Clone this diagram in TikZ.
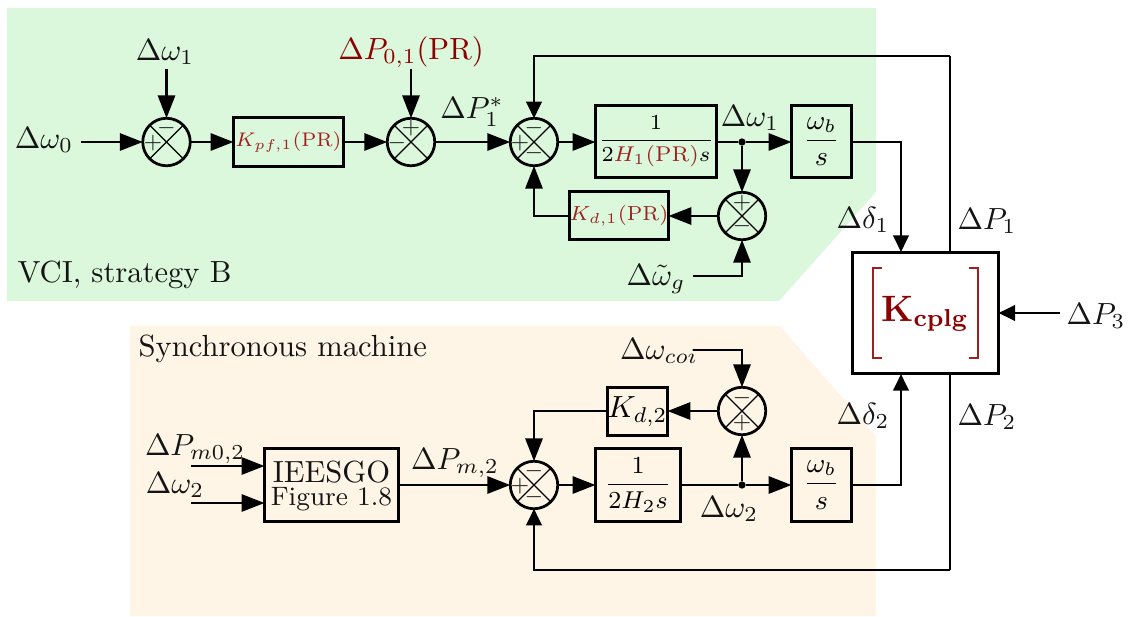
\documentclass[tikz,border=0pt]{standalone}
\usepackage{amsmath}
\usepackage{graphicx}
\usetikzlibrary{arrows.meta}
\definecolor{greenbg}{HTML}{DCF8DC}
\definecolor{orangebg}{HTML}{FFF5E6}
\definecolor{dred}{HTML}{8B0000}
\definecolor{mred}{HTML}{9E2020}
\newcommand{\pxu}{0.327pt}
\begin{document}
\begin{tikzpicture}[x=\pxu,y=-\pxu,
  wire/.style={line width=0.9pt},
  bigarrow/.style={wire,-{Triangle[length=7.5pt,width=5.6pt]}},
  smallarrow/.style={wire,-{Triangle[length=5.4pt,width=5pt]}},
  blockbox/.style 2 args={draw,line width=0.9pt,inner sep=0pt,outer sep=0pt,align=center,
     minimum width=#1*\pxu,minimum height=#2*\pxu},
  sumnode/.style={draw,circle,line width=0.9pt,inner sep=0pt,outer sep=0pt,minimum size=47.5*\pxu},
  crossline/.style={line width=0.45pt},
  signmark/.style={inner sep=0pt,font=\scriptsize,text=black!85},
  lab/.style={inner sep=0pt,text=black!92},
  jdot/.style={circle,fill=black,inner sep=0pt,outer sep=0pt,minimum size=2.4pt},
  point/.style={inner sep=0pt,outer sep=0pt,minimum size=0pt}
]
\useasboundingbox (0,0) rectangle (1132,616);
\fill[greenbg] (7,8) -- (876,8) -- (876,192) -- (779,301) -- (7,301) -- cycle;
\fill[orangebg] (130,326) -- (780,326) -- (876,436) -- (876,616) -- (130,616) -- cycle;

% sums
\node[sumnode] (s1) at (166.5,142) {};
\node[sumnode] (s2) at (411,142) {};
\node[sumnode] (s3) at (534,142) {};
\node[sumnode] (s4) at (742,216) {};
\node[sumnode] (s5) at (742,411) {};
\node[sumnode] (s6) at (534,485) {};
\foreach \s in {s1,s2,s3,s4,s5,s6}{
  \draw[crossline] (\s.45) -- (\s.225);
  \draw[crossline] (\s.135) -- (\s.315);
}
\node[signmark] (s1t) at (166.5,128) {$-$};
\node[signmark] (s1l) at (153,143) {$+$};
\node[signmark] (s2t) at (411,128) {$+$};
\node[signmark] (s2l) at (397,143) {$-$};
\node[signmark] (s3t) at (534,128) {$-$};
\node[signmark] (s3l) at (520,143) {$+$};
\node[signmark] (s3b) at (534,153) {$-$};
\node[signmark] (s4t) at (742,203) {$+$};
\node[signmark] (s4b) at (742,226) {$-$};
\node[signmark] (s5t) at (742,398) {$-$};
\node[signmark] (s5b) at (742,423) {$+$};
\node[signmark] (s6t) at (534,471) {$-$};
\node[signmark] (s6l) at (520,486) {$+$};
\node[signmark] (s6b) at (534,497) {$-$};

% boxes
\node[blockbox={110}{49}] (kpf) at (288.5,142) {\scalebox{0.92}{\scriptsize\color{mred}$K_{pf,1}(\mathrm{PR})$}};
\node[blockbox={121}{72}] (h1) at (656,141.5) {\scriptsize$\dfrac{1}{2{\color{mred}H_1(\mathrm{PR})}s}$};
\node[blockbox={60}{72}] (wb1) at (821.5,141.5) {\small$\dfrac{\omega_b}{s}$};
\node[blockbox={97}{48}] (kd1) at (619,215.5) {\scalebox{0.95}{\scriptsize\color{mred}$K_{d,1}(\mathrm{PR})$}};
\node[blockbox={146}{121}] (k) at (925.5,313) {};
\node[inner sep=0pt,text=dred,font=\large] (ktext) at (925,314) {$\mathbf{K_{cplg}}$};
\node[blockbox={134}{73}] (ie) at (331.5,485) {};
\node[lab,font=\normalsize] (ie1) at (331.5,472) {IEESGO};
\node[lab,font=\fontsize{8.7}{10}\selectfont] (ie2) at (331.5,499) {Figure 1.8};
\node[blockbox={85}{73}] (h2) at (638,485) {\footnotesize$\dfrac{1}{2H_2s}$};
\node[blockbox={60}{73}] (wb2) at (821.5,485) {\small$\dfrac{\omega_b}{s}$};
\node[blockbox={60}{48}] (kd2) at (637.5,411.5) {$K_{d,2}$};

% bracket
\draw[mred,line width=0.35pt] (882,268) -- (873,268) -- (873,358) -- (882,358);
\draw[mred,line width=0.35pt] (969,268) -- (978,268) -- (978,358) -- (969,358);

% free ends and dots
\node[point] (in0) at (81,142) {};
\node[point] (in1) at (166.5,69) {};
\node[point] (in01) at (411,69) {};
\node[point] (ing) at (693,276) {};
\node[point] (incoi) at (693,350) {};
\node[point] (inm) at (191,466) {};
\node[point] (inw) at (191,503) {};
\node[point] (inp3) at (1060,313) {};
\node[jdot] (j1) at (742,142) {};
\node[jdot] (j2) at (742,485) {};
\coordinate (p1top) at (950,56);
\coordinate (p2bot) at (950,570);
\coordinate (k1) at (950,252);
\coordinate (k2) at (950,374);
\coordinate (d1) at (901,252);
\coordinate (d2) at (901,374);

% connectors
\draw[bigarrow] (in0) -- (s1);
\draw[bigarrow] (in1) -- (s1);
\draw[bigarrow] (s1) -- (kpf);
\draw[bigarrow] (kpf) -- (s2);
\draw[bigarrow] (in01) -- (s2);
\draw[bigarrow] (s2) -- (s3);
\draw[bigarrow] (s3) -- (h1.west |- s3);
\draw[wire] (h1.east |- j1) -- (j1);
\draw[bigarrow] (j1) -- (wb1.west |- j1);
\draw[bigarrow] (j1) -- (s4);
\draw[bigarrow] (s4) -- (kd1.east |- s4);
\draw[bigarrow] (kd1.west |- s4) -| (s3);
\draw[bigarrow] (ing) -| (s4);
\draw[wire] (k1) -- (p1top);
\draw[smallarrow] (p1top) -| (s3);
\draw[smallarrow] (wb1.east |- j1) -| (d1);
\draw[smallarrow] (wb2) -| (d2);
\draw[wire] (k2) -- (p2bot);
\draw[smallarrow] (p2bot) -| (s6);
\draw[smallarrow] (inp3) -- (k.east |- inp3);
\draw[bigarrow] (inm) -- (ie.west |- inm);
\draw[bigarrow] (inw) -- (ie.west |- inw);
\draw[bigarrow] (ie) -- (s6);
\draw[bigarrow] (s6) -- (h2);
\draw[wire] (h2) -- (j2);
\draw[bigarrow] (j2) -- (wb2);
\draw[bigarrow] (j2) -- (s5);
\draw[bigarrow] (incoi) -| (s5);
\draw[bigarrow] (s5) -- (kd2.east |- s5);
\draw[bigarrow] (kd2.west |- s5) -| (s6);

% labels
\node[lab] (l1) at (165,52) {$\Delta\omega_1$};
\node[lab] (l0) at (44,140) {$\Delta\omega_0$};
\node[lab,text=dred] (l01) at (411,52) {$\Delta P_{0,1}(\mathrm{PR})$};
\node[lab] (lps) at (472,112) {$\Delta P_1^*$};
\node[lab,anchor=west] (lvci) at (17,275) {VCI, strategy B};
\node[lab] (lw1) at (750,118) {$\Delta\omega_1$};
\node[lab] (ld1) at (863,220) {$\Delta\delta_1$};
\node[lab] (lp1) at (987,221) {$\Delta P_1$};
\node[lab] (lp3) at (1096,316) {$\Delta P_3$};
\node[lab] (lp2) at (987,417) {$\Delta P_2$};
\node[lab] (ld2) at (863,416) {$\Delta\delta_2$};
\node[lab] (lg) at (656,279) {$\Delta\tilde\omega_g$};
\node[lab] (lc) at (659,351) {$\Delta\omega_{coi}$};
\node[lab] (lpm) at (455,463) {$\Delta P_{m,2}$};
\node[lab] (lw2) at (729,509) {$\Delta\omega_2$};
\node[lab] (lpm0) at (195,449) {$\Delta P_{m0,2}$};
\node[lab] (lw2b) at (175,485) {$\Delta\omega_2$};
\node[lab,anchor=west] (lsm) at (138,349) {Synchronous machine};
\end{tikzpicture}
\end{document}
